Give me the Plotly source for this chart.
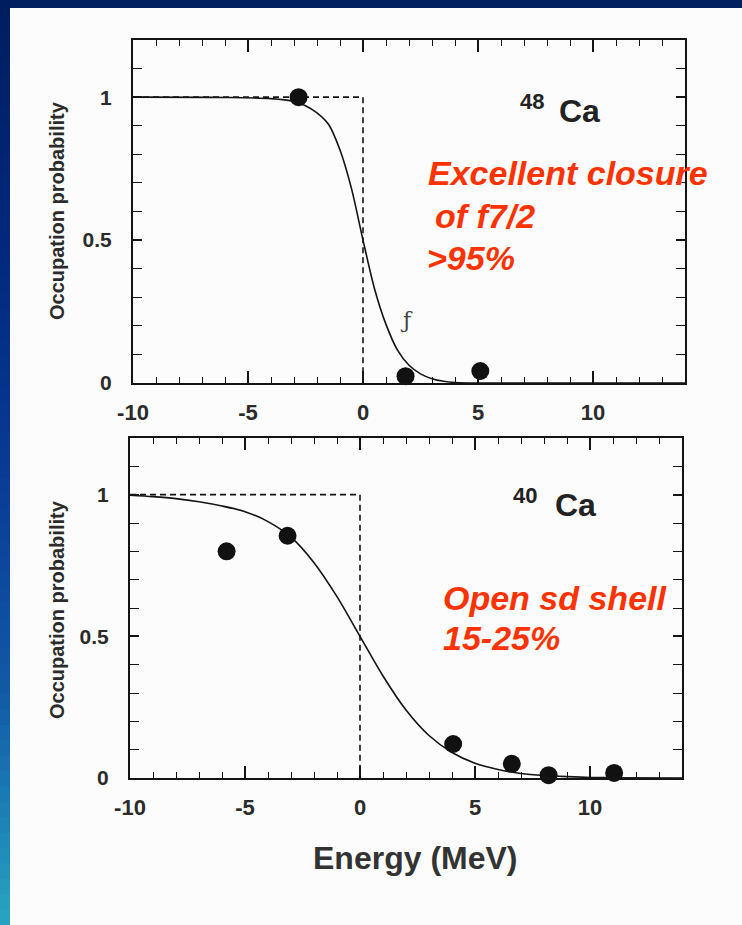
import plotly.graph_objects as go

W, H = 742, 925

# ---------------- data ----------------
x_range = [-10, 14]
y_range = [0, 1.2]
x_tickvals = [-10, -5, 0, 5, 10]
x_ticktext = ["-10", "-5", "0", "5", "10"]
y_tickvals = [0, 0.5, 1]
y_ticktext = ["0", "0.5", "1"]

# 48Ca panel
ca48_curve_x = [-10, -6, -4, -3, -2.5, -2, -1.5, -1, -0.5, 0, 0.5, 1, 1.5, 2, 2.5, 3, 3.5, 4, 5, 14]
ca48_curve_y = [1.0, 0.999, 0.995, 0.985, 0.97, 0.945, 0.905, 0.815, 0.68, 0.5, 0.33, 0.205, 0.115, 0.062, 0.032, 0.015, 0.006, 0.002, 0.0, 0.0]
ca48_step_x = [-10, 0, 0]
ca48_step_y = [1, 1, 0]
ca48_pts_x = [-2.8, 1.85, 3.45, 5.1]
ca48_pts_y = [1.0, 0.024, -0.007, 0.042]

# 40Ca panel
ca40_curve_x = [-10, -9, -8, -7, -6, -5, -4, -3, -2, -1, 0, 1, 2, 3, 4, 5, 6, 7, 8, 9, 10, 11, 14]
ca40_curve_y = [0.998, 0.993, 0.986, 0.975, 0.96, 0.94, 0.905, 0.85, 0.76, 0.64, 0.5, 0.36, 0.24, 0.15, 0.09, 0.052, 0.03, 0.016, 0.009, 0.005, 0.002, 0.001, 0.0]
ca40_step_x = [-10, 0, 0]
ca40_step_y = [1, 1, 0]
ca40_pts_x = [-5.8, -3.15, 4.05, 6.6, 8.2, 11.05]
ca40_pts_y = [0.80, 0.855, 0.12, 0.05, 0.01, 0.018]

y_title = "Occupation probability"
x_title = "Energy (MeV)"
red_top = ["Excellent closure", "of f7/2", ">95%"]
red_bot = ["Open sd shell", "15-25%"]

# ---------------- helpers ----------------
def px(x):
    return x / W

def py(y):
    return 1 - y / H

FONT = "Liberation Sans, Arial, sans-serif"
INK = "#141414"
TXT = "#2b2b2b"
RED = "#ff3300"

fig = go.Figure()

def add_panel(cx, cy, sx, sy, ptx, pty, xa, ya):
    fig.add_trace(go.Scatter(x=sx, y=sy, mode="lines", xaxis=xa, yaxis=ya,
                             line=dict(color=INK, width=1.6, dash="6px,4px"),
                             showlegend=False, hoverinfo="skip"))
    fig.add_trace(go.Scatter(x=cx, y=cy, mode="lines", xaxis=xa, yaxis=ya,
                             line=dict(color=INK, width=1.6, shape="spline", smoothing=0.8),
                             showlegend=False, hoverinfo="skip"))
    fig.add_trace(go.Scatter(x=ptx, y=pty, mode="markers", xaxis=xa, yaxis=ya,
                             marker=dict(color="#111111", size=18),
                             cliponaxis=False, showlegend=False))

add_panel(ca48_curve_x, ca48_curve_y, ca48_step_x, ca48_step_y, ca48_pts_x, ca48_pts_y, "x", "y")
add_panel(ca40_curve_x, ca40_curve_y, ca40_step_x, ca40_step_y, ca40_pts_x, ca40_pts_y, "x2", "y2")

xtickfont = dict(family=FONT, size=22, color=TXT, weight="bold")
ytickfont = dict(family=FONT, size=21, color=TXT, weight="bold")

def xaxis_def(x0, x1, anchor):
    return dict(domain=[px(x0), px(x1)], anchor=anchor, range=x_range, automargin=False,
                showline=True, linecolor=INK, linewidth=2, mirror="allticks",
                ticks="inside", ticklen=12, tickwidth=1.5, tickcolor=INK,
                tickmode="array", tickvals=x_tickvals, ticktext=x_ticktext,
                showgrid=False, zeroline=False,
                tickfont=xtickfont, ticklabelstandoff=9,
                minor=dict(tick0=-10, dtick=1, ticks="inside", ticklen=6, tickwidth=1.2,
                           tickcolor=INK, showgrid=False))

def yaxis_def(y0, y1, anchor):
    return dict(domain=[py(y1), py(y0)], anchor=anchor, range=y_range, automargin=False,
                showline=True, linecolor=INK, linewidth=2, mirror="allticks",
                ticks="inside", ticklen=9, tickwidth=1.5, tickcolor=INK,
                tickmode="array", tickvals=y_tickvals, ticktext=y_ticktext,
                showgrid=False, zeroline=False,
                tickfont=ytickfont, ticklabelstandoff=15,
                minor=dict(tick0=0, dtick=0.1, ticks="inside", ticklen=9, tickwidth=1.2,
                           tickcolor=INK, showgrid=False))

# ---------------- background (slide frame) ----------------
shapes = []
shapes.append(dict(type="rect", xref="paper", yref="paper", x0=0, x1=1,
                   y0=py(8), y1=1, fillcolor="#00205f", line=dict(width=0), layer="below"))
stops = [(0.0, (0, 30, 94)), (0.3, (2, 42, 128)), (0.55, (10, 63, 152)),
         (0.75, (18, 90, 165)), (0.88, (28, 128, 180)), (1.0, (40, 166, 192))]

def grad(t):
    for (t0, c0), (t1, c1) in zip(stops[:-1], stops[1:]):
        if t0 <= t <= t1:
            f = (t - t0) / (t1 - t0)
            return "rgb(%d,%d,%d)" % tuple(round(a + (b - a) * f) for a, b in zip(c0, c1))
    return "rgb(40,166,192)"

N = 60
for i in range(N):
    ya = H * i / N
    yb = H * (i + 1) / N + 1
    shapes.append(dict(type="rect", xref="paper", yref="paper", x0=0, x1=px(10),
                       y0=py(min(yb, H)), y1=py(ya), fillcolor=grad((i + 0.5) / N),
                       line=dict(width=0), layer="below"))

# ---------------- annotations ----------------
ann = []
def text(x, y, s, size, color=TXT, weight="bold", style="normal", xanchor="center", angle=0, family=FONT):
    ann.append(dict(x=px(x), y=py(y), xref="paper", yref="paper", text=s, showarrow=False,
                    xanchor=xanchor, yanchor="middle", textangle=angle,
                    font=dict(family=family, size=size, color=color, weight=weight, style=style)))

text(57, 211, y_title, 20, angle=-90)
text(57, 610, y_title, 20, angle=-90)
text(415, 858, x_title, 32, color="#333333")

text(532, 101, "48", 22, color="#222222")
text(579, 111, "Ca", 32, color="#222222")
text(525, 496, "40", 22, color="#222222")
text(575, 505, "Ca", 32, color="#222222")

text(426, 173, red_top[0], 34, color=RED, style="italic", xanchor="left")
text(433, 216, red_top[1], 34, color=RED, style="italic", xanchor="left")
text(425, 258, red_top[2], 34, color=RED, style="italic", xanchor="left")
text(441, 598, red_bot[0], 34, color=RED, style="italic", xanchor="left")
text(441, 638, red_bot[1], 34, color=RED, style="italic", xanchor="left")

# small scanned pen mark in the upper panel
text(407, 320, "ƒ", 22, color="#444444", weight="normal", family="DejaVu Serif")

fig.update_layout(
    width=W, height=H, margin=dict(l=0, r=0, t=0, b=0, autoexpand=False),
    paper_bgcolor="#fcfcfc", plot_bgcolor="rgba(0,0,0,0)",
    xaxis=xaxis_def(133, 685, "y"), yaxis=yaxis_def(40, 383, "x"),
    xaxis2=xaxis_def(130, 682, "y2"), yaxis2=yaxis_def(438, 778, "x2"),
    shapes=shapes, annotations=ann, showlegend=False,
)

fig.write_html("out.html")
